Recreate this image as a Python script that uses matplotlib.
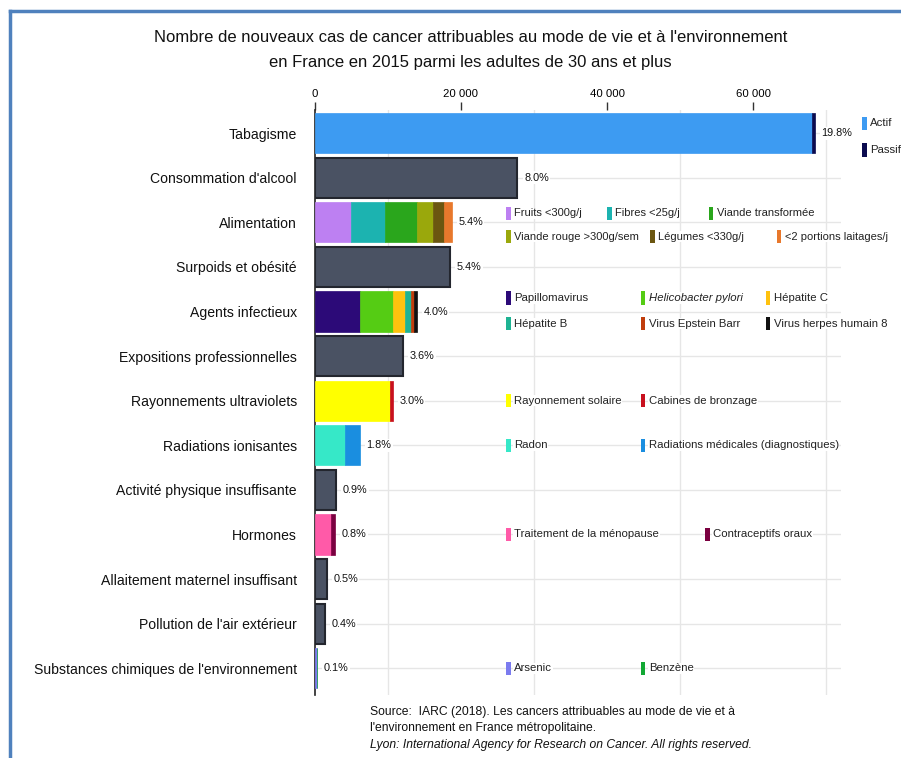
import matplotlib
matplotlib.use("Agg")
from matplotlib import pyplot as plt
from matplotlib.patches import Rectangle
from matplotlib.lines import Line2D

plt.rcParams['font.family'] = ['Liberation Sans', 'DejaVu Sans']

# data
categories = ["Tabagisme", "Consommation d'alcool", "Alimentation",
              "Surpoids et obésité", "Agents infectieux",
              "Expositions professionnelles", "Rayonnements ultraviolets",
              "Radiations ionisantes", "Activité physique insuffisante",
              "Hormones", "Allaitement maternel insuffisant",
              "Pollution de l'air extérieur",
              "Substances chimiques de l'environnement"]
pct_labels = ["19.8%", "8.0%", "5.4%", "5.4%", "4.0%", "3.6%", "3.0%",
              "1.8%", "0.9%", "0.8%", "0.5%", "0.4%", "0.1%"]

tabac_labels = ["Actif", "Passif"]
tabac_values = [68000, 400]
alim_labels = ["Fruits <300g/j", "Fibres <25g/j", "Viande transformée",
               "Viande rouge >300g/sem", "Légumes <330g/j",
               "<2 portions laitages/j"]
alim_values = [4960, 4630, 4490, 2080, 1570, 1040]
infect_labels = ["Papillomavirus", "Helicobacter pylori", "Hépatite C",
                 "Hépatite B", "Virus Epstein Barr", "Virus herpes humain 8"]
infect_values = [6220, 4460, 1680, 780, 520, 320]
uv_labels = ["Rayonnement solaire", "Cabines de bronzage"]
uv_values = [10270, 400]
radiation_labels = ["Radon", "Radiations médicales (diagnostiques)"]
radiation_values = [4120, 2100]
hormone_labels = ["Traitement de la ménopause", "Contraceptifs oraux"]
hormone_values = [2190, 610]
chem_labels = ["Arsenic", "Benzène"]
chem_values = [280, 60]

# single-colour categories
alcool_value = 27750
surpoids_value = 18520
pro_value = 12090
activite_value = 2940
allaitement_value = 1670
pollution_value = 1410

gray = "#4a5263"
segments = [
    (tabac_values, ["#3d9bf2", "#0b0b4f"]),
    ([alcool_value], [gray]),
    (alim_values, ["#bd80f2", "#1cb3b0", "#2aa61c", "#9aa80c", "#6b5610", "#e8782c"]),
    ([surpoids_value], [gray]),
    (infect_values, ["#2c0a78", "#55cc14", "#ffc20e", "#1eb393", "#c03d0c", "#111111"]),
    ([pro_value], [gray]),
    (uv_values, ["#ffff00", "#c8101e"]),
    (radiation_values, ["#36e8c8", "#1a8ee0"]),
    ([activite_value], [gray]),
    (hormone_values, ["#ff5aa8", "#7a0040"]),
    ([allaitement_value], [gray]),
    ([pollution_value], [gray]),
    (chem_values, ["#7b7bef", "#12a834"]),
]

fig = plt.figure(figsize=(9.01, 7.58), dpi=100)
ax = fig.add_axes([314.5 / 901, 1 - 695 / 758, 526.5 / 901, 585 / 758])

for i, (vals, cols) in enumerate(segments):
    left = 0
    for v, c in zip(vals, cols):
        if c == gray:
            ax.barh(i, v, left=left, height=0.9, color=c, edgecolor="#23262e",
                    linewidth=1.5, zorder=3)
        else:
            ax.barh(i, v, left=left, height=0.9, color=c, edgecolor=c,
                    linewidth=0.5, zorder=3)
        left += v
    ax.text(left + 900, i, pct_labels[i], va="center", ha="left", fontsize=7.8,
            color="#111111", zorder=4,
            bbox=dict(facecolor="white", edgecolor="none", pad=1))

ax.set_xlim(0, 72000)
ax.set_ylim(12.6, -0.52)
ax.set_yticks(range(len(categories)))
ax.set_yticklabels(categories, fontsize=10.1, color="#111111")
ax.tick_params(axis="y", length=0, pad=12.6)
ax.xaxis.tick_top()
ax.set_xticks([0, 20000, 40000, 60000])
ax.set_xticklabels(["0", "20 000", "40 000", "60 000"], fontsize=8.2)
ax.set_xticks(range(0, 72000, 10000), minor=True)
ax.tick_params(axis="x", which="major", length=6, width=1, color="#333333", pad=2)
ax.tick_params(axis="x", which="minor", length=0)
ax.grid(axis="x", which="minor", color="#e6e6e6", linewidth=1, zorder=0)
ax.grid(axis="y", color="#e6e6e6", linewidth=1, zorder=0)
ax.set_axisbelow(True)
for s in ["top", "right", "bottom"]:
    ax.spines[s].set_visible(False)
ax.spines["left"].set_color("#222222")
ax.spines["left"].set_linewidth(1.2)


def legend_item(x, y, label, color, italic=False, fontsize=8.2):
    ax.add_patch(Rectangle((x, y - 0.15), 650, 0.3, facecolor=color,
                           edgecolor="none", zorder=5, clip_on=False))
    ax.text(x + 1100, y, label, va="center", ha="left", fontsize=fontsize,
            color="#222222", style="italic" if italic else "normal", zorder=4,
            clip_on=False, bbox=dict(facecolor="white", edgecolor="none", pad=0.5))


col1 = 26200
# tabagisme legend
legend_item(74900, -0.22, tabac_labels[0], segments[0][1][0])
legend_item(74900, 0.38, tabac_labels[1], segments[0][1][1])
# alimentation
alim_x = [col1, 40000, 53900, col1, 45900, 63200]
alim_y = [1.8, 1.8, 1.8, 2.32, 2.32, 2.32]
for x, y, lab, c in zip(alim_x, alim_y, alim_labels, segments[2][1]):
    legend_item(x, y, lab, c, fontsize=8.0)
# infectieux
inf_x = [col1, 44600, 61700, col1, 44600, 61700]
inf_y = [3.7, 3.7, 3.7, 4.27, 4.27, 4.27]
for k, (x, y, lab, c) in enumerate(zip(inf_x, inf_y, infect_labels, segments[4][1])):
    legend_item(x, y, lab, c, italic=(k == 1))
# single rows
for row, labs, x2 in [(6, uv_labels, 44600), (7, radiation_labels, 44600),
                      (9, hormone_labels, 53400), (12, chem_labels, 44600)]:
    legend_item(col1, row, labs[0], segments[row][1][0])
    legend_item(x2, row, labs[1], segments[row][1][1])

# title
fig.text(0.522, 1 - 37 / 758, "Nombre de nouveaux cas de cancer attribuables au mode de vie et à l'environnement",
         ha="center", va="center", fontsize=12, color="#111111")
fig.text(0.522, 1 - 62 / 758, "en France en 2015 parmi les adultes de 30 ans et plus",
         ha="center", va="center", fontsize=12, color="#111111")

# source
fig.text(370 / 901, 1 - 712 / 758,
         "Source:  IARC (2018). Les cancers attribuables au mode de vie et à",
         ha="left", va="center", fontsize=8.7, color="#111111")
fig.text(370 / 901, 1 - 728 / 758, "l'environnement en France métropolitaine.",
         ha="left", va="center", fontsize=8.7, color="#111111")
fig.text(370 / 901, 1 - 745 / 758,
         "Lyon: International Agency for Research on Cancer. All rights reserved.",
         ha="left", va="center", fontsize=8.7, color="#111111", style="italic")

# frame
fig.add_artist(Line2D([10 / 901, 1], [1 - 11 / 758, 1 - 11 / 758],
                      transform=fig.transFigure, color="#4f81bd", linewidth=2.5))
fig.add_artist(Line2D([10 / 901, 10 / 901], [0, 1 - 11 / 758],
                      transform=fig.transFigure, color="#4f81bd", linewidth=2.5))

plt.savefig("out.png", dpi=100)
